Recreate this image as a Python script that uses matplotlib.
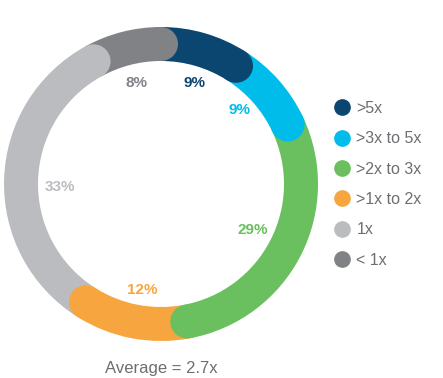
import matplotlib.pyplot as plt
import numpy as np
from matplotlib.lines import Line2D
from matplotlib.patches import Circle

categories = [">5x", ">3x to 5x", ">2x to 3x", ">1x to 2x", "1x", "< 1x"]
shares = [9, 9, 29, 12, 33, 8]
colors = ["#0b4670", "#00bceb", "#6abf5e", "#f7a63f", "#bbbcbf", "#808285"]
average_text = "Average = 2.7x"

# label offsets (pixels from ring centre)
label_pos = [(34, 101), (79, 74), (92, -46), (-19, -106), (-101, -3), (-24, 101)]

plt.rcParams["font.family"] = ["Liberation Sans", "DejaVu Sans"]

W, H = 443, 378
fig = plt.figure(figsize=(W / 100, H / 100), dpi=100)
ax = fig.add_axes([0, 0, 1, 1])

cx, cy = 161, 194
r_out, ring = 157, 34

ax.pie(
    shares,
    colors=colors,
    startangle=90,
    counterclock=False,
    radius=r_out,
    center=(cx, cy),
    wedgeprops=dict(width=ring, linewidth=0),
    frame=True,
)

# rounded end caps, each overlapping the following segment
cum = np.cumsum(shares)
r_mid = r_out - ring / 2
for c, s in zip(colors, cum):
    a = np.deg2rad(90 - 360 * s / 100)
    ax.add_patch(Circle((cx + r_mid * np.cos(a), cy + r_mid * np.sin(a)),
                        ring / 2, color=c, lw=0, zorder=3))

for v, c, (dx, dy) in zip(shares, colors, label_pos):
    ax.text(cx + dx, cy + dy, f"{v}%", color=c, fontsize=11, fontweight="bold",
            ha="center", va="center", zorder=4)

ax.text(cx, H - 368, average_text, color="#6d6e71", fontsize=12,
        ha="center", va="center")

handles = [Line2D([], [], ls="", marker="o", markersize=11, color=c) for c in colors]
leg = ax.legend(handles, categories, loc="upper left",
                bbox_to_anchor=(334 / W, 1 - 101 / H), frameon=False,
                fontsize=11.5, labelcolor="#6d6e71", handlelength=1.0,
                handletextpad=0.4, labelspacing=0.96, borderpad=0,
                borderaxespad=0)

ax.set_xlim(0, W)
ax.set_ylim(0, H)
ax.set_aspect("equal")
ax.axis("off")

fig.savefig("out.png", dpi=100)
